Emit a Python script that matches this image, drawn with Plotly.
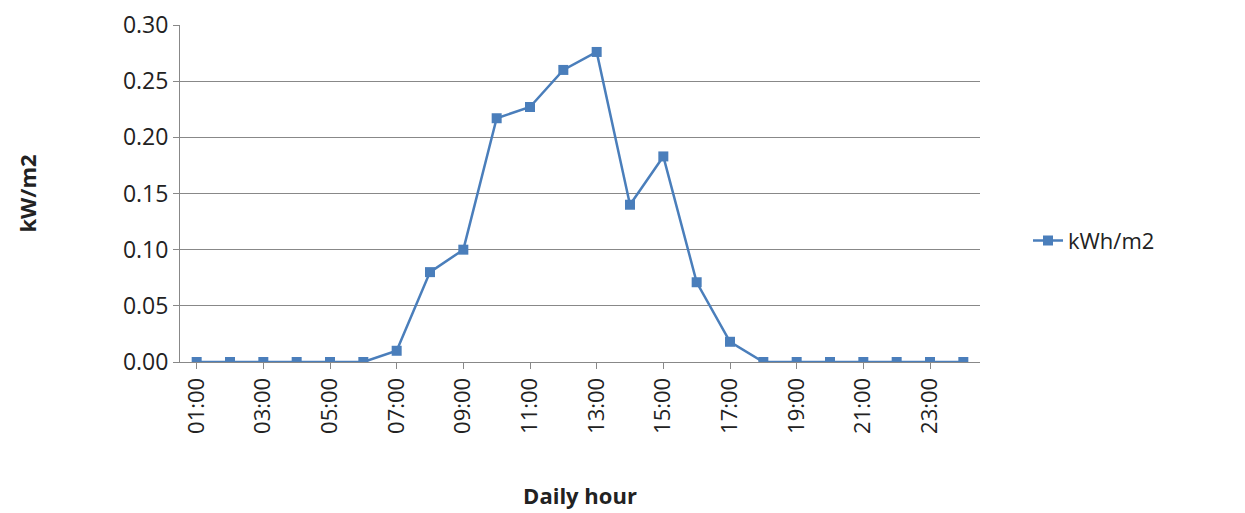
import plotly.graph_objects as go

hours = [f"{h:02d}:00" for h in range(1, 25)]
values = [0, 0, 0, 0, 0, 0, 0.010, 0.080, 0.100, 0.217, 0.227, 0.260, 0.276,
          0.140, 0.183, 0.071, 0.018, 0, 0, 0, 0, 0, 0, 0]
tick_labels = [h for i, h in enumerate(hours) if i % 2 == 0]

fig = go.Figure(go.Scatter(
    x=hours, y=values, mode="lines+markers", name="kWh/m2",
    line=dict(color="#4a7ebb", width=2.5),
    marker=dict(symbol="square", size=10, color="#4a7ebb"),
))
fig.update_layout(
    width=1245, height=513, plot_bgcolor="white", paper_bgcolor="white",
    margin=dict(l=172, r=273, t=17, b=159, autoexpand=False),
    font=dict(family="Open Sans, Liberation Sans, sans-serif", color="#222"),
    legend=dict(x=1.06, y=0.36, yanchor="middle", font=dict(size=22)),
    showlegend=True,
)
fig.update_xaxes(
    type="category", range=[-0.5, 23.5], tickvals=tick_labels, ticktext=tick_labels,
    tickangle=-90, tickfont=dict(size=22), showgrid=False, showline=True,
    linecolor="#888", ticks="outside", ticklen=6, tickcolor="#888", automargin=False,
    title=dict(text="<b>Daily hour</b>", font=dict(size=22), standoff=55),
)
fig.update_yaxes(
    range=[0, 0.30], dtick=0.05, tickformat=".2f", tickfont=dict(size=23),
    showgrid=True, gridcolor="#888", showline=True, linecolor="#888",
    ticks="outside", ticklen=6, tickcolor="#888", zeroline=False, automargin=False,
    title=dict(text="<b>kW/m2</b>", font=dict(size=22), standoff=80),
)
fig.write_html("out.html")
